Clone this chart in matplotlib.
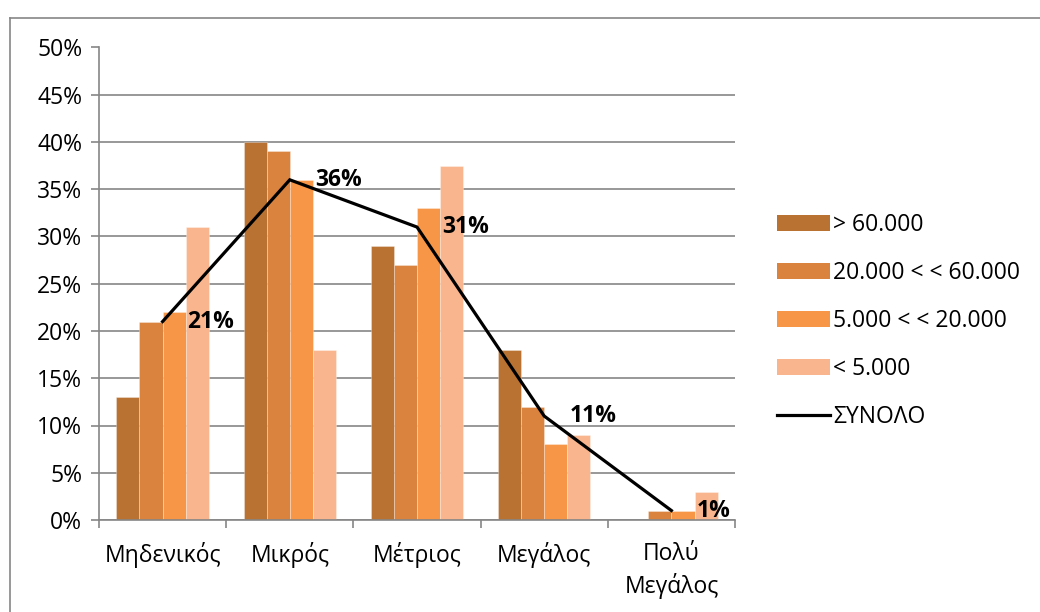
import matplotlib.pyplot as plt
import numpy as np
from matplotlib.lines import Line2D
from matplotlib.patches import Patch

plt.rcParams['font.family'] = ['Open Sans', 'DejaVu Sans']

# data ----------------------------------------------------------
categories = ['Μηδενικός', 'Μικρός', 'Μέτριος', 'Μεγάλος', 'Πολύ\nΜεγάλος']
series_names = ['> 60.000', '20.000 < < 60.000', '5.000 < < 20.000', '< 5.000']
over_60k = [13, 40, 29, 18, 0]
from_20k_to_60k = [21, 39, 27, 12, 1]
from_5k_to_20k = [22, 36, 33, 8, 1]
under_5k = [31, 18, 37.5, 9, 3]
total = [21, 36, 31, 11, 1]
total_name = 'ΣΥΝΟΛΟ'

colors = ['#B97232', '#D9833F', '#F79646', '#F9B68E']
fs = 16.5

fig = plt.figure(figsize=(10.4, 6.12), dpi=100)
ax = fig.add_axes([99 / 1040, 92 / 612, 636 / 1040, 472.5 / 612])

x = np.arange(len(categories))
bw = 1 / 5.5
series = [over_60k, from_20k_to_60k, from_5k_to_20k, under_5k]
for i, vals in enumerate(series):
    ax.bar(x + (i - 1.5) * bw, vals, width=bw, color=colors[i],
           edgecolor=(1, 1, 1, 0.35), linewidth=0.6, zorder=2)

ax.plot(x, total, color='black', linewidth=2.3, zorder=3, solid_joinstyle='miter')
for xi, v in zip(x, total):
    ax.annotate(f'{v}%', (xi, v), xytext=(18, 0), textcoords='offset points',
                ha='left', va='center', fontsize=fs, fontweight='bold', zorder=4)

ax.set_xlim(-0.5, len(categories) - 0.5)
ax.set_ylim(0, 50)
ax.set_yticks(range(0, 51, 5))
ax.set_yticklabels([f'{t}%' for t in range(0, 51, 5)], fontsize=fs)
ax.set_xticks(x)
ax.set_xticklabels(categories, fontsize=fs, linespacing=1.35)
ax.set_xticks(np.arange(-0.5, len(categories), 1), minor=True)
ax.tick_params(axis='x', which='major', length=0, pad=16)
ax.tick_params(axis='x', which='minor', length=6, color='#868686', width=1.2)
ax.tick_params(axis='y', length=6, color='#868686', width=1.2, pad=6)
ax.grid(axis='y', color='#868686', linewidth=1.2, zorder=0)
ax.set_axisbelow(True)
for s in ['top', 'right']:
    ax.spines[s].set_visible(False)
for s in ['left', 'bottom']:
    ax.spines[s].set_color('#868686')
    ax.spines[s].set_linewidth(1.2)

handles = [Patch(facecolor=c, edgecolor='none') for c in colors]
handles.append(Line2D([0], [0], color='black', linewidth=2.3))
fig.legend(handles, series_names + [total_name], loc='center left',
           bbox_to_anchor=(777 / 1040, 1 - 321 / 612), frameon=False, fontsize=fs,
           borderpad=0, borderaxespad=0,
           handlelength=2.3, handleheight=0.7, handletextpad=0.15,
           labelspacing=1.05)

# chart border (only left and top visible)
fig.add_artist(Line2D([10 / 1040, 10 / 1040], [0, 1 - 18 / 612],
                      transform=fig.transFigure, color='#868686', linewidth=1.2))
fig.add_artist(Line2D([10 / 1040, 1], [1 - 18 / 612, 1 - 18 / 612],
                      transform=fig.transFigure, color='#868686', linewidth=1.2))

fig.savefig('out.png', dpi=100)
